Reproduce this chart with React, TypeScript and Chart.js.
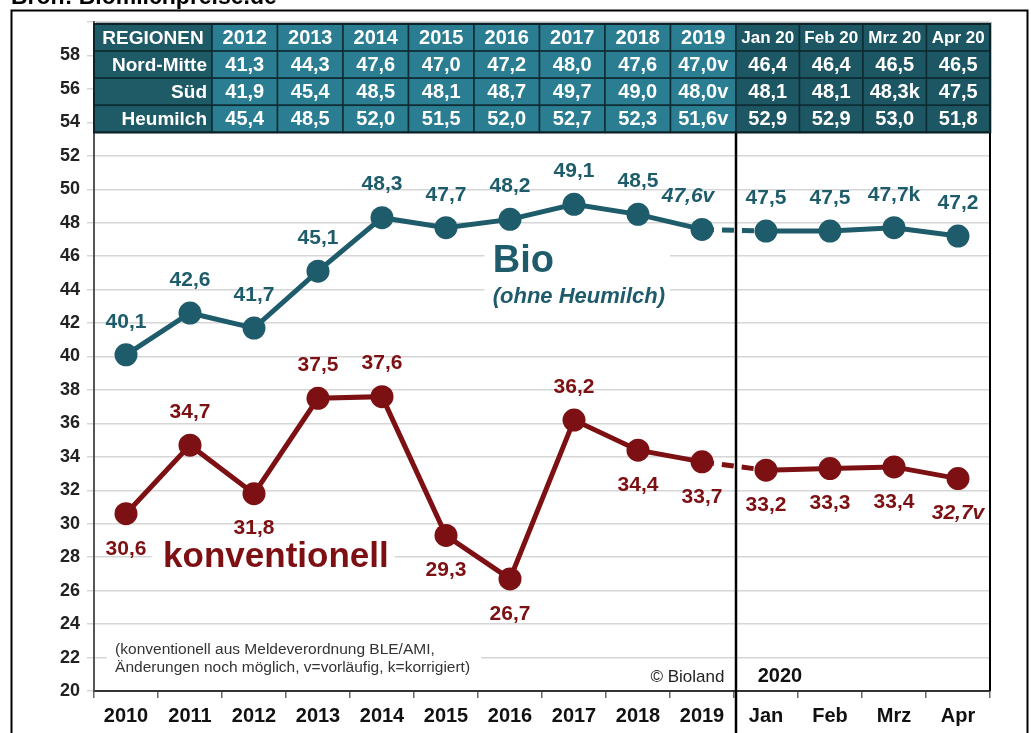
import React, { useEffect, useRef } from 'react';
import { Chart, registerables } from 'chart.js';

Chart.register(...registerables);

const FONT = '"Liberation Sans", Arial, Helvetica, sans-serif';

const categories = ['2010', '2011', '2012', '2013', '2014', '2015', '2016', '2017', '2018', '2019', 'Jan', 'Feb', 'Mrz', 'Apr'];

const bioValues = [40.1, 42.6, 41.7, 45.1, 48.3, 47.7, 48.2, 49.1, 48.5, 47.6, 47.5, 47.5, 47.7, 47.2];
const bioLabels = ['40,1', '42,6', '41,7', '45,1', '48,3', '47,7', '48,2', '49,1', '48,5', '47,6v', '47,5', '47,5', '47,7k', '47,2'];
const bioLabelSide = ['above', 'above', 'above', 'above', 'above', 'above', 'above', 'above', 'above', 'aboveLeft', 'above', 'above', 'above', 'above'];

const konvValues = [30.6, 34.7, 31.8, 37.5, 37.6, 29.3, 26.7, 36.2, 34.4, 33.7, 33.2, 33.3, 33.4, 32.7];
const konvLabels = ['30,6', '34,7', '31,8', '37,5', '37,6', '29,3', '26,7', '36,2', '34,4', '33,7', '33,2', '33,3', '33,4', '32,7v'];
const konvLabelSide = ['below', 'above', 'below', 'above', 'above', 'below', 'below', 'above', 'below', 'below', 'below', 'below', 'below', 'below'];

const tableHeader = ['REGIONEN', '2012', '2013', '2014', '2015', '2016', '2017', '2018', '2019', 'Jan 20', 'Feb 20', 'Mrz 20', 'Apr 20'];
const rowNordMitte = ['Nord-Mitte', '41,3', '44,3', '47,6', '47,0', '47,2', '48,0', '47,6', '47,0v', '46,4', '46,4', '46,5', '46,5'];
const rowSued = ['Süd', '41,9', '45,4', '48,5', '48,1', '48,7', '49,7', '49,0', '48,0v', '48,1', '48,1', '48,3k', '47,5'];
const rowHeumilch = ['Heumilch', '45,4', '48,5', '52,0', '51,5', '52,0', '52,7', '52,3', '51,6v', '52,9', '52,9', '53,0', '51,8'];

const yTicksMin = 20;
const yTicksMax = 60;

const titleText = 'Bron: Biomilchpreise.de';
const bioTitle = 'Bio';
const bioSubtitle = '(ohne Heumilch)';
const konvTitle = 'konventionell';
const footnoteLines = ['(konventionell aus Meldeverordnung BLE/AMI,', 'Änderungen noch möglich, v=vorläufig, k=korrigiert)'];
const copyrightText = '© Bioland';
const yearText = '2020';

const BIO_COLOR = '#1f5c6b';
const KONV_COLOR = '#7d1013';

const overlayPlugin = {
  id: 'overlay',
  beforeDatasetsDraw(chart: any) {
    const { ctx, scales } = chart;
    const x = scales.x;
    const y = scales.y;
    const px = (i: number) => x.getPixelForValue(i);
    const py = (v: number) => y.getPixelForValue(v);
    ctx.save();
    ctx.fillStyle = '#ffffff';
    ctx.fillRect(px(5.6), py(46.9), px(8.5) - px(5.6), py(42.8) - py(46.9));
    ctx.fillRect(px(0.4), py(29.3), px(4.2) - px(0.4), py(26.8) - py(29.3));
    ctx.fillRect(px(-0.3), py(23.0), px(5.55) - px(-0.3), py(20.9) - py(23.0));

    ctx.textBaseline = 'middle';
    ctx.textAlign = 'left';
    ctx.fillStyle = BIO_COLOR;
    ctx.font = `bold 38px ${FONT}`;
    ctx.fillText(bioTitle, px(5.73), py(45.7));
    ctx.font = `italic bold 22px ${FONT}`;
    ctx.fillText(bioSubtitle, px(5.73), py(43.55));

    ctx.fillStyle = KONV_COLOR;
    ctx.font = `bold 35px ${FONT}`;
    ctx.fillText(konvTitle, px(0.58), py(28.0));

    ctx.fillStyle = '#333333';
    ctx.font = `15.5px ${FONT}`;
    ctx.fillText(footnoteLines[0], px(-0.17), py(22.45));
    ctx.fillText(footnoteLines[1], px(-0.17), py(21.4));

    ctx.textAlign = 'right';
    ctx.font = `17px ${FONT}`;
    ctx.fillStyle = '#222222';
    ctx.fillText(copyrightText, px(9.35), py(20.8));

    ctx.textAlign = 'left';
    ctx.font = `bold 20px ${FONT}`;
    ctx.fillStyle = '#111111';
    ctx.fillText(yearText, px(9.87), py(20.85));
    ctx.restore();
  },
  afterDatasetsDraw(chart: any) {
    const { ctx } = chart;
    const sets = [
      { idx: 0, labels: bioLabels, side: bioLabelSide, color: BIO_COLOR },
      { idx: 1, labels: konvLabels, side: konvLabelSide, color: KONV_COLOR },
    ];
    ctx.save();
    ctx.textAlign = 'center';
    ctx.textBaseline = 'middle';
    sets.forEach((s) => {
      const meta = chart.getDatasetMeta(s.idx);
      meta.data.forEach((pt: any, i: number) => {
        const lbl = s.labels[i];
        const italic = lbl.endsWith('v');
        ctx.font = `${italic ? 'italic ' : ''}bold 21px ${FONT}`;
        ctx.fillStyle = s.color;
        const side = s.side[i];
        const dy = side.startsWith('above') ? -33 : 35;
        const dx = side === 'aboveLeft' ? -14 : 0;
        ctx.fillText(lbl, pt.x + dx, pt.y + dy);
      });
    });
    ctx.restore();
  },
  afterDraw(chart: any) {
    const { ctx, chartArea, scales } = chart;
    const x = scales.x;
    const y = scales.y;
    const px = (i: number) => x.getPixelForValue(i);
    const left = chartArea.left;
    const right = chartArea.right;
    const top = chartArea.top + 2;
    const bottom = y.getPixelForValue(53.4);
    const divider = (px(9) + px(10)) / 2 + 2;

    ctx.save();
    ctx.strokeStyle = '#000000';
    ctx.lineWidth = 2.5;
    ctx.beginPath();
    ctx.moveTo(divider, bottom);
    ctx.lineTo(divider, chart.height);
    ctx.stroke();
    ctx.lineWidth = 2;
    ctx.beginPath();
    ctx.moveTo(right, bottom);
    ctx.lineTo(right, chartArea.bottom);
    ctx.stroke();

    const rows = [tableHeader, rowNordMitte, rowSued, rowHeumilch];
    const firstW = 118;
    const yearW = (divider - left - firstW) / 8;
    const monthW = (right - divider) / 4;
    const colX: number[] = [left, left + firstW];
    for (let i = 1; i <= 8; i++) colX.push(left + firstW + yearW * i);
    for (let i = 1; i <= 4; i++) colX.push(divider + monthW * i);
    const rowH = (bottom - top) / rows.length;

    ctx.fillStyle = 'rgba(0,0,0,0.25)';
    ctx.fillRect(left + 2, top - 2, right - left, bottom - top + 3);

    rows.forEach((row, r) => {
      row.forEach((txt, c) => {
        const cx0 = colX[c];
        const cx1 = colX[c + 1];
        const cy0 = top + rowH * r;
        let fill = '#2b7d92';
        if (c === 0) fill = '#1f5a67';
        else if (c >= 9) fill = '#1e5764';
        ctx.fillStyle = fill;
        ctx.fillRect(cx0, cy0, cx1 - cx0, rowH);
        ctx.strokeStyle = '#0e2c33';
        ctx.lineWidth = 1.5;
        ctx.strokeRect(cx0, cy0, cx1 - cx0, rowH);
        ctx.fillStyle = '#ffffff';
        ctx.textBaseline = 'middle';
        const cy = cy0 + rowH / 2 + 1;
        if (c === 0) {
          ctx.font = `bold 19px ${FONT}`;
          if (r === 0) {
            ctx.textAlign = 'center';
            ctx.fillText(txt, (cx0 + cx1) / 2, cy);
          } else {
            ctx.textAlign = 'right';
            ctx.fillText(txt, cx1 - 5, cy);
          }
        } else if (r === 0 && c >= 9) {
          ctx.font = `bold 17px ${FONT}`;
          ctx.textAlign = 'center';
          ctx.fillText(txt, (cx0 + cx1) / 2, cy, cx1 - cx0 - 8);
        } else {
          ctx.font = `bold 20px ${FONT}`;
          ctx.textAlign = 'center';
          ctx.fillText(txt, (cx0 + cx1) / 2, cy, cx1 - cx0 - 4);
        }
      });
    });
    ctx.strokeStyle = '#0a2228';
    ctx.lineWidth = 2;
    ctx.strokeRect(left, top, right - left, bottom - top);

    ctx.strokeStyle = '#000000';
    ctx.lineWidth = 2;
    ctx.strokeRect(11.5, 10.5, 1016, 760);

    ctx.fillStyle = '#000000';
    ctx.font = `bold 23px ${FONT}`;
    ctx.textAlign = 'left';
    ctx.textBaseline = 'alphabetic';
    ctx.fillText(titleText, 11, 4);
    ctx.restore();
  },
};

export default function App() {
  const canvasRef = useRef<HTMLCanvasElement | null>(null);

  useEffect(() => {
    if (!canvasRef.current) return;
    const dashSeg = (ctx: any) => (ctx.p0DataIndex === 9 ? [12, 8] : undefined);
    const chart = new Chart(canvasRef.current, {
      type: 'line',
      data: {
        labels: categories,
        datasets: [
          {
            label: 'Bio',
            data: bioValues,
            borderColor: BIO_COLOR,
            backgroundColor: BIO_COLOR,
            borderWidth: 5,
            pointRadius: 11.5,
            pointBorderWidth: 0,
            pointBackgroundColor: BIO_COLOR,
            tension: 0,
            segment: { borderDash: dashSeg },
          },
          {
            label: 'konventionell',
            data: konvValues,
            borderColor: KONV_COLOR,
            backgroundColor: KONV_COLOR,
            borderWidth: 5,
            pointRadius: 11.5,
            pointBorderWidth: 0,
            pointBackgroundColor: KONV_COLOR,
            tension: 0,
            segment: { borderDash: dashSeg },
          },
        ],
      },
      options: {
        responsive: false,
        animation: false,
        devicePixelRatio: 1,
        layout: { padding: { top: 22, right: 41, left: 0, bottom: 0 } },
        plugins: {
          legend: { display: false },
          tooltip: { enabled: false },
          title: { display: false },
        },
        scales: {
          x: {
            type: 'category',
            offset: true,
            grid: { offset: true, drawOnChartArea: false, tickLength: 7, color: '#666666', lineWidth: 1.5 },
            border: { color: '#333333', width: 2 },
            ticks: { font: { family: FONT, size: 20, weight: 'bold' }, color: '#111111', padding: 6, maxRotation: 0, autoSkip: false },
            afterFit: (s: any) => { s.height = 42; },
          },
          y: {
            min: yTicksMin,
            max: yTicksMax,
            ticks: {
              stepSize: 2,
              font: { family: FONT, size: 18, weight: 'bold' },
              color: '#222222',
              padding: 7,
              callback: (v: any) => (v === yTicksMax ? '' : String(v)),
            },
            grid: { color: '#d6d6d6', lineWidth: 1.5, tickLength: 7 },
            border: { color: '#555555', width: 2 },
            afterFit: (s: any) => { s.width = 94; },
          },
        },
      },
      plugins: [overlayPlugin],
    });
    return () => chart.destroy();
  }, []);

  return (
    <div style={{ position: 'absolute', left: 0, top: 0, width: 1031, height: 733, overflow: 'hidden', background: '#ffffff' }}>
      <canvas ref={canvasRef} width={1031} height={733} style={{ display: 'block' }} />
    </div>
  );
}
